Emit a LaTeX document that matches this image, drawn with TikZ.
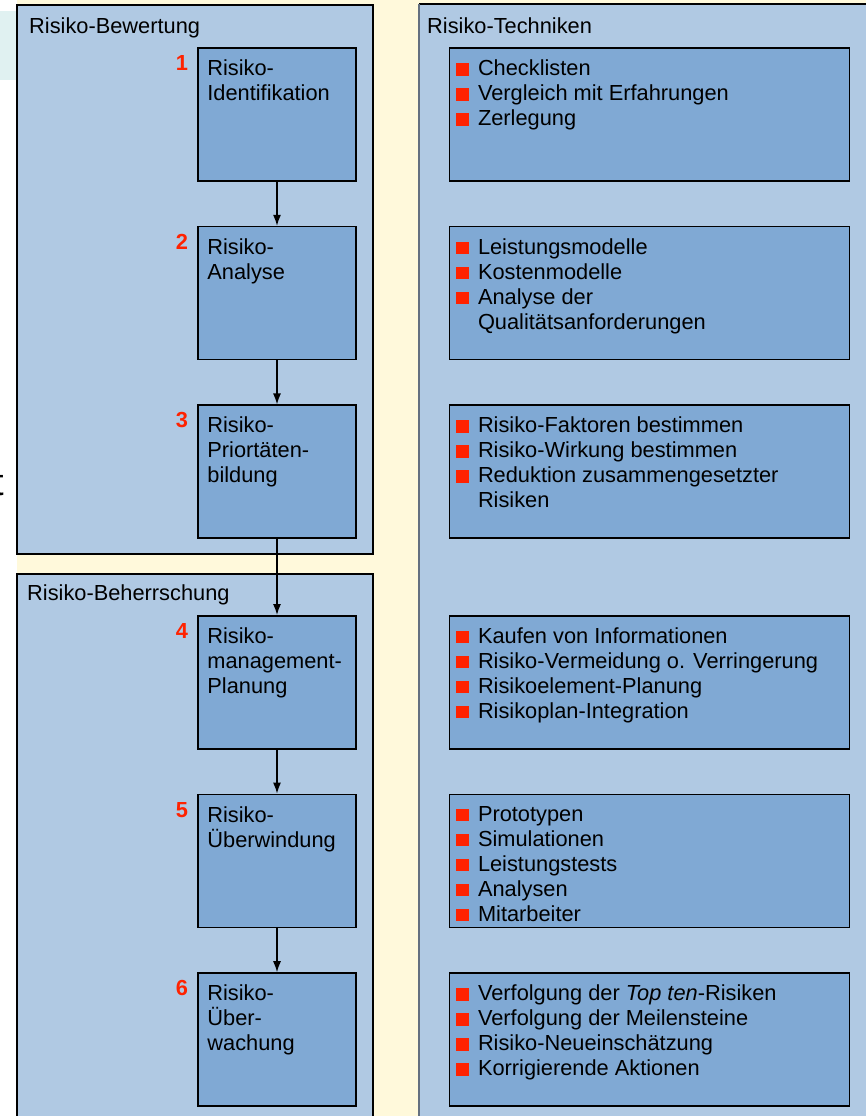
\documentclass[tikz,border=0pt]{standalone}
\usepackage{fontspec}
\setmainfont{Liberation Sans}
\usetikzlibrary{positioning,arrows.meta}
\definecolor{panelblue}{RGB}{176,201,227}
\definecolor{boxblue}{RGB}{128,169,212}
\definecolor{cream}{RGB}{255,249,219}
\definecolor{paleteal}{RGB}{224,241,241}
\definecolor{markred}{RGB}{255,34,0}
\definecolor{edgegray}{RGB}{100,112,128}
\newcommand{\bul}{\makebox[22pt][l]{\textcolor{markred}{\rule{13pt}{12.5pt}}}}
\newcommand{\cont}{\hspace*{22pt}}
\tikzset{
	panel/.style={fill=panelblue, draw=black, line width=1.5pt},
	stepbox/.style={rectangle, fill=boxblue, draw=black, line width=1.6pt,
		minimum width=158pt, minimum height=133pt, inner sep=0pt},
	techbox/.style={stepbox, minimum width=400pt},
	boxtext/.style={anchor=north west, align=left, inner sep=0pt,
		font=\fontsize{21.8}{25}\selectfont},
	stepno/.style={anchor=base east, inner sep=0pt, text=markred,
		font=\fontsize{21.8}{25}\selectfont\bfseries},
	paneltitle/.style={anchor=base west, inner sep=0pt,
		font=\fontsize{21.8}{25}\selectfont},
	>={Latex[length=11pt,width=8pt]}
}
\begin{document}
\begin{tikzpicture}[x=1pt,y=-1pt]
	\useasboundingbox (0,0) rectangle (866,1116);
	% background
	\fill[white] (0,0) rectangle (866,1116);
	\fill[cream] (17,0) rectangle (866,1116);
	\fill[paleteal] (-5,11) rectangle (17,80);
	\node (cut) [anchor=base west, inner sep=0pt, font=\fontsize{38}{40}\selectfont]
		at (-6.5,495) {t};
	% panels
	\draw[panel] (17,5) rectangle (373,554);
	\draw[panel] (17,574) rectangle (373,1130);
	\fill[panelblue] (419,4) rectangle (880,1130);
	\draw[black, line width=1.5pt] (419,4) -- (880,4);
	\draw[edgegray, line width=1.5pt] (419,4) -- (419,1130);
	\node (bew) [paneltitle] at (29,34) {Risiko-Bewertung};
	\node (beh) [paneltitle] at (27,600) {Risiko-Beherrschung};
	\node (tech) [paneltitle] at (427,34) {Risiko-Techniken};
	% steps
	\node (s1) [stepbox] at (277,114.5) {};
	\node (s2) [stepbox, below=44pt of s1] {};
	\node (s3) [stepbox, below=44pt of s2] {};
	\node (s4) [stepbox, below=76pt of s3] {};
	\node (s5) [stepbox, below=44pt of s4] {};
	\node (s6) [stepbox, below=44pt of s5] {};
	\node (t1) [boxtext] at ([xshift=10pt,yshift=-12.4pt]s1.north west)
		{Risiko-\\Identifikation};
	\node (t2) [boxtext] at ([xshift=10pt,yshift=-12.4pt]s2.north west)
		{Risiko-\\Analyse};
	\node (t3) [boxtext] at ([xshift=10pt,yshift=-12.4pt]s3.north west)
		{Risiko-\\Priortäten-\\bildung};
	\node (t4) [boxtext] at ([xshift=10pt,yshift=-12.4pt]s4.north west)
		{Risiko-\\management-\\Planung};
	\node (t5) [boxtext] at ([xshift=10pt,yshift=-12.4pt]s5.north west)
		{Risiko-\\Überwindung};
	\node (t6) [boxtext] at ([xshift=10pt,yshift=-12.4pt]s6.north west)
		{Risiko-\\Über-\\wachung};
	\foreach \i in {1,...,6}
		\node (n\i) [stepno] at ([xshift=-9pt,yshift=-23.5pt]s\i.north west) {\i};
	% techniques
	\node (r1) [techbox, right=92pt of s1] {};
	\node (r2) [techbox, right=92pt of s2] {};
	\node (r3) [techbox, right=92pt of s3] {};
	\node (r4) [techbox, right=92pt of s4] {};
	\node (r5) [techbox, right=92pt of s5] {};
	\node (r6) [techbox, right=92pt of s6] {};
	\node (l1) [boxtext] at ([xshift=7pt,yshift=-12.4pt]r1.north west)
		{\bul Checklisten\\\bul Vergleich mit Erfahrungen\\\bul Zerlegung};
	\node (l2) [boxtext] at ([xshift=7pt,yshift=-12.4pt]r2.north west)
		{\bul Leistungsmodelle\\\bul Kostenmodelle\\\bul Analyse der\\
		\cont Qualitätsanforderungen};
	\node (l3) [boxtext] at ([xshift=7pt,yshift=-12.4pt]r3.north west)
		{\bul Risiko-Faktoren bestimmen\\\bul Risiko-Wirkung bestimmen\\
		\bul Reduktion zusammengesetzter\\\cont Risiken};
	\node (l4) [boxtext] at ([xshift=7pt,yshift=-12.4pt]r4.north west)
		{\bul Kaufen von Informationen\\\bul Risiko-Vermeidung o. Verringerung\\
		\bul Risikoelement-Planung\\\bul Risikoplan-Integration};
	\node (l5) [boxtext] at ([xshift=7pt,yshift=-12.4pt]r5.north west)
		{\bul Prototypen\\\bul Simulationen\\\bul Leistungstests\\
		\bul Analysen\\\bul Mitarbeiter};
	\node (l6) [boxtext] at ([xshift=7pt,yshift=-12.4pt]r6.north west)
		{\bul Verfolgung der \textit{Top ten}-Risiken\\
		\bul Verfolgung der Meilensteine\\\bul Risiko-Neueinschätzung\\
		\bul Korrigierende Aktionen};
	% flow
	\foreach \a/\b in {s1/s2,s2/s3,s3/s4,s4/s5,s5/s6}
		\draw [->, line width=1.3pt] (\a) to (\b);
\end{tikzpicture}
\end{document}
